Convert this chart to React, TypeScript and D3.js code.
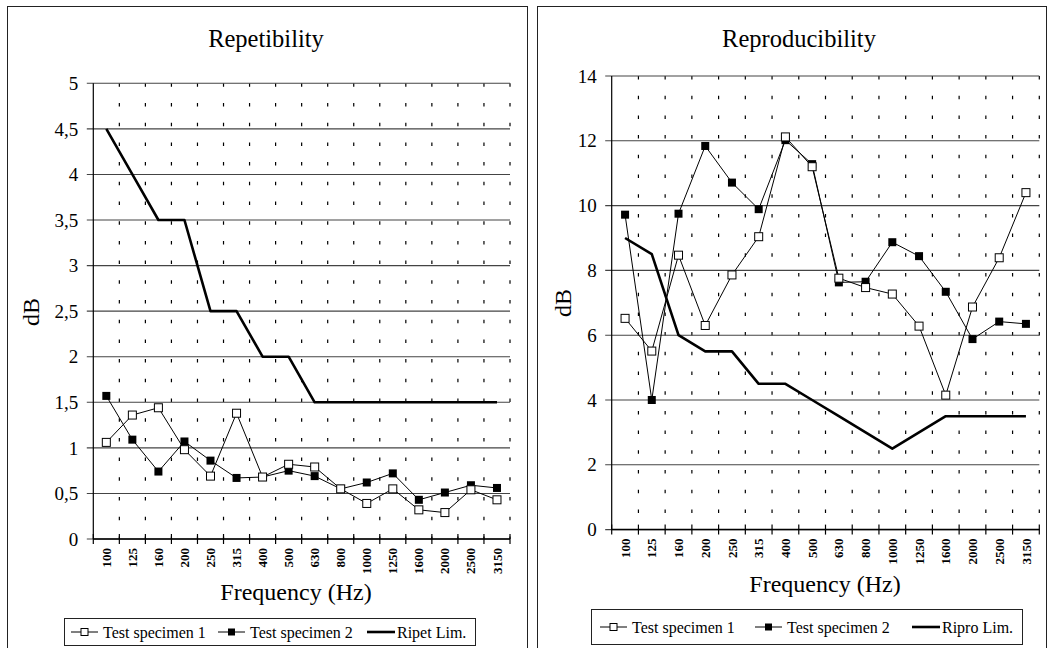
import React from 'react';
import * as d3 from 'd3';

const frequencies = ['100', '125', '160', '200', '250', '315', '400', '500', '630', '800', '1000', '1250', '1600', '2000', '2500', '3150'];

const repSpec1 = [1.06, 1.36, 1.44, 0.98, 0.69, 1.38, 0.68, 0.82, 0.79, 0.55, 0.39, 0.55, 0.32, 0.29, 0.54, 0.43];
const repSpec2 = [1.57, 1.09, 0.74, 1.07, 0.86, 0.67, 0.68, 0.75, 0.69, 0.55, 0.62, 0.72, 0.43, 0.51, 0.59, 0.56];
const ripetLim = [4.5, 4, 3.5, 3.5, 2.5, 2.5, 2, 2, 1.5, 1.5, 1.5, 1.5, 1.5, 1.5, 1.5, 1.5];

const reproSpec1 = [6.52, 5.51, 8.47, 6.3, 7.86, 9.04, 12.12, 11.2, 7.76, 7.47, 7.27, 6.28, 4.15, 6.87, 8.39, 10.4];
const reproSpec2 = [9.72, 4.0, 9.75, 11.84, 10.71, 9.89, 12.02, 11.28, 7.63, 7.65, 8.87, 8.44, 7.34, 5.88, 6.42, 6.35];
const riproLim = [9, 8.5, 6, 5.5, 5.5, 4.5, 4.5, 4, 3.5, 3, 2.5, 3, 3.5, 3.5, 3.5, 3.5];

const repTicks = [0, 0.5, 1, 1.5, 2, 2.5, 3, 3.5, 4, 4.5, 5];
const reproTicks = [0, 2, 4, 6, 8, 10, 12, 14];

const FONT = "'Liberation Serif', 'DejaVu Serif', serif";

function fmt(v) {
  return String(v).replace('.', ',');
}

function Chart({ box, plot, title, yTicks, yMax, spec1, spec2, limit, limitName, legend, labels }) {
  const x = d3.scaleBand().domain(frequencies).range([plot.left, plot.right]);
  const y = d3.scaleLinear().domain([0, yMax]).range([plot.bottom, plot.top]);
  const cx = (f) => x(f) + x.bandwidth() / 2;

  const line = d3.line()
    .x((d, i) => cx(frequencies[i]))
    .y(d => y(d));

  const bounds = frequencies.map(f => x(f)).concat([plot.right]);
  const sq = 8;

  return (
    <g>
      {/* panel frame */}
      <rect x={box.x} y={box.y} width={box.w} height={box.h} fill="white" stroke="#222" strokeWidth={1} />
      <text x={labels.titleX} y={labels.titleY} textAnchor="middle" fontSize={24.5}>{title}</text>

      {/* vertical dashed grid */}
      {bounds.slice(1).map((bx, i) => (
        <line key={'v' + i} x1={bx} x2={bx} y1={plot.top} y2={plot.bottom} stroke="#000" strokeWidth={1.2} strokeDasharray="3.5,16.2" />
      ))}
      {/* horizontal gridlines + ticks */}
      {yTicks.map(t => (
        <g key={'h' + t}>
          <line x1={plot.left - 6.5} x2={plot.right} y1={y(t)} y2={y(t)} stroke="#444" strokeWidth={1.1} />
          <text x={plot.left - 15} y={y(t)} dy="0.35em" textAnchor="end" fontSize={19}>{fmt(t)}</text>
        </g>
      ))}
      {/* axes */}
      <line x1={plot.left} x2={plot.left} y1={plot.top} y2={plot.bottom} stroke="#000" strokeWidth={1.2} />
      <line x1={plot.left} x2={plot.right} y1={plot.bottom} y2={plot.bottom} stroke="#000" strokeWidth={1.5} />
      {bounds.map((bx, i) => (
        <line key={'xt' + i} x1={bx} x2={bx} y1={plot.bottom - 5} y2={plot.bottom + 5} stroke="#000" strokeWidth={1.2} />
      ))}
      {frequencies.map(f => (
        <text key={'xl' + f} transform={`translate(${cx(f)},${plot.bottom + 9}) rotate(-90)`} textAnchor="end" dy="0.35em"
          fontSize={13} fontWeight="bold">{f}</text>
      ))}

      <text transform={`translate(${labels.dbX},${labels.dbY}) rotate(-90)`} textAnchor="middle" fontSize={24}>dB</text>
      <text x={labels.freqX} y={labels.freqY} textAnchor="middle" fontSize={24}>Frequency (Hz)</text>

      {/* series */}
      <path d={line(limit)} fill="none" stroke="#000" strokeWidth={2.6} strokeLinejoin="round" />
      <path d={line(spec2)} fill="none" stroke="#000" strokeWidth={1} />
      <path d={line(spec1)} fill="none" stroke="#000" strokeWidth={1} />
      {spec2.map((v, i) => (
        <rect key={'s2' + i} x={cx(frequencies[i]) - sq / 2} y={y(v) - sq / 2} width={sq} height={sq} fill="#000" />
      ))}
      {spec1.map((v, i) => (
        <rect key={'s1' + i} x={cx(frequencies[i]) - sq / 2} y={y(v) - sq / 2} width={sq} height={sq} fill="white" stroke="#000" strokeWidth={1} />
      ))}

      {/* legend */}
      <rect x={legend.x} y={legend.y} width={legend.w} height={legend.h} fill="white" stroke="#222" strokeWidth={1} />
      {(() => {
        const ly = legend.y + legend.h / 2;
        const items = legend.items;
        return (
          <g>
            <line x1={items[0]} x2={items[0] + 27} y1={ly} y2={ly} stroke="#000" strokeWidth={1} />
            <rect x={items[0] + 10} y={ly - 3.5} width={7} height={7} fill="white" stroke="#000" />
            <text x={items[0] + 32} y={ly} dy="0.35em" fontSize={16}>Test specimen 1</text>
            <line x1={items[1]} x2={items[1] + 27} y1={ly} y2={ly} stroke="#000" strokeWidth={1} />
            <rect x={items[1] + 10} y={ly - 3.5} width={7} height={7} fill="#000" />
            <text x={items[1] + 32} y={ly} dy="0.35em" fontSize={16}>Test specimen 2</text>
            <line x1={items[2]} x2={items[2] + 28} y1={ly} y2={ly} stroke="#000" strokeWidth={2.6} />
            <text x={items[2] + 30} y={ly} dy="0.35em" fontSize={16}>{limitName}</text>
          </g>
        );
      })()}
    </g>
  );
}

export default function App() {
  return (
    <svg width={1049} height={648} style={{ position: 'absolute', left: 0, top: 0, background: 'white', fontFamily: FONT }}>
      <Chart
        box={{ x: 7.5, y: 6.5, w: 520, h: 660 }}
        plot={{ left: 93.3, right: 510, top: 83.3, bottom: 539 }}
        title="Repetibility"
        yTicks={repTicks}
        yMax={5}
        spec1={repSpec1}
        spec2={repSpec2}
        limit={ripetLim}
        limitName="Ripet Lim."
        labels={{ titleX: 266, titleY: 47, dbX: 39, dbY: 312, freqX: 296, freqY: 600 }}
        legend={{ x: 64.5, y: 618.5, w: 411, h: 27, items: [71, 218, 367] }}
      />
      <Chart
        box={{ x: 537.5, y: 6.5, w: 509, h: 660 }}
        plot={{ left: 611.7, right: 1039.3, top: 76, bottom: 529.6 }}
        title="Reproducibility"
        yTicks={reproTicks}
        yMax={14}
        spec1={reproSpec1}
        spec2={reproSpec2}
        limit={riproLim}
        limitName="Ripro Lim."
        labels={{ titleX: 799, titleY: 47, dbX: 571, dbY: 303, freqX: 825, freqY: 592 }}
        legend={{ x: 591.5, y: 609.5, w: 431, h: 35, items: [600, 755, 912] }}
      />
    </svg>
  );
}
